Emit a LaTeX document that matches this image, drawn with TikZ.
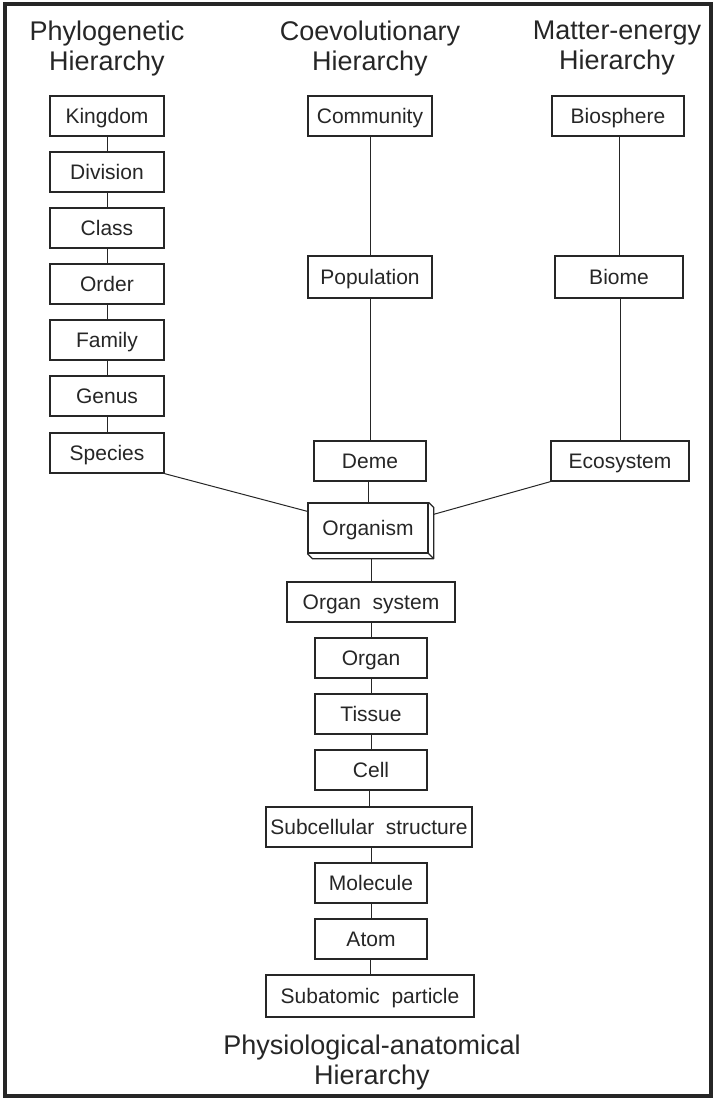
\documentclass[tikz,border=0pt]{standalone}
\usepackage{fontspec}
\setmainfont{Liberation Sans}
\begin{document}
\begin{tikzpicture}[x=1pt,y=-1pt,
  box/.style={draw=black!85, line width=1.3pt, fill=white, inner sep=0pt,
    minimum height=40pt, text height=15pt, text depth=0pt,
    font=\fontsize{21}{24}\selectfont, text=black!85},
  link/.style={draw=black!85, line width=1pt},
  head/.style={font=\fontsize{27}{30}\selectfont, align=center, text=black!85, inner sep=0pt}]
\useasboundingbox (0,0) rectangle (715,1099);
\draw[line width=3.5pt, black!85] (5,4) rectangle (711,1096);

% headers
\node[head, anchor=north] (h1) at (107,21) {Phylogenetic\\Hierarchy};
\node[head, anchor=north] (h2) at (370,21) {Coevolutionary\\Hierarchy};
\node[head, anchor=north] (h3) at (617,21) {Matter-energy\\Hierarchy};
\node[head, anchor=north] (h4) at (372,1035) {Physiological-anatomical\\Hierarchy};

\node[box, minimum width=114] (kingdom)  at (107,116) {Kingdom};
\node[box, minimum width=114] (division) at (107,172) {Division};
\node[box, minimum width=114] (class)    at (107,228) {Class};
\node[box, minimum width=114] (order)    at (107,284) {Order};
\node[box, minimum width=114] (family)   at (107,340) {Family};
\node[box, minimum width=114] (genus)    at (107,396) {Genus};
\node[box, minimum width=114] (species)  at (107,453) {Species};

\node[box, minimum width=124] (community)  at (370,116) {Community};
\node[box, minimum width=124, minimum height=42] (population) at (370,277) {Population};
\node[box, minimum width=112] (deme)       at (370,461) {Deme};
\node[box, minimum width=120, minimum height=50] (org) at (368,528) {Organism};
\node[box, minimum width=168] (orgsys)  at (371,602) {Organ\ \ system};
\node[box, minimum width=112] (organ)   at (371,658) {Organ};
\node[box, minimum width=112] (tissue)  at (371,714) {Tissue};
\node[box, minimum width=112] (cell)    at (371,770) {Cell};
\node[box, minimum width=206] (subcell) at (369,827) {Subcellular\ \ structure};
\node[box, minimum width=112] (molecule) at (371,883) {Molecule};
\node[box, minimum width=112] (atom)    at (371,939) {Atom};
\node[box, minimum width=208, minimum height=42] (subatom) at (370,996) {Subatomic\ \ particle};

\node[box, minimum width=132] (biosphere) at (618,116) {Biosphere};
\node[box, minimum width=128, minimum height=42] (biome) at (619,277) {Biome};
\node[box, minimum width=138] (eco) at (620,461) {Ecosystem};

% 3D faces of Organism
\draw[draw=black!85, line width=1.3pt, line join=round] (org.north east) -- ++(5,5) -- ([shift={(5,5)}]org.south east)
  -- ([shift={(5,5)}]org.south west) -- (org.south west);
\draw[draw=black!85, line width=1.3pt] (org.south east) -- ++(5,5);

% vertical links
\foreach \a/\b in {kingdom/division,division/class,class/order,order/family,family/genus,genus/species,
  community/population,population/deme,deme/org,orgsys/organ,organ/tissue,tissue/cell,cell/subcell,
  subcell/molecule,molecule/atom,atom/subatom,biosphere/biome,biome/eco}
  \draw[link] (\a.south -| \b.north) -- (\b.north);
\coordinate (orgbot) at ([yshift=-5pt]org.south);
\draw[link] (orgbot -| orgsys.north) -- (orgsys.north);
\draw[link] (species.south east) -- ([yshift=-9pt]org.north west);
\draw[link] (eco.south west) -- ([xshift=5pt,yshift=-12pt]org.north east);
\end{tikzpicture}
\end{document}
